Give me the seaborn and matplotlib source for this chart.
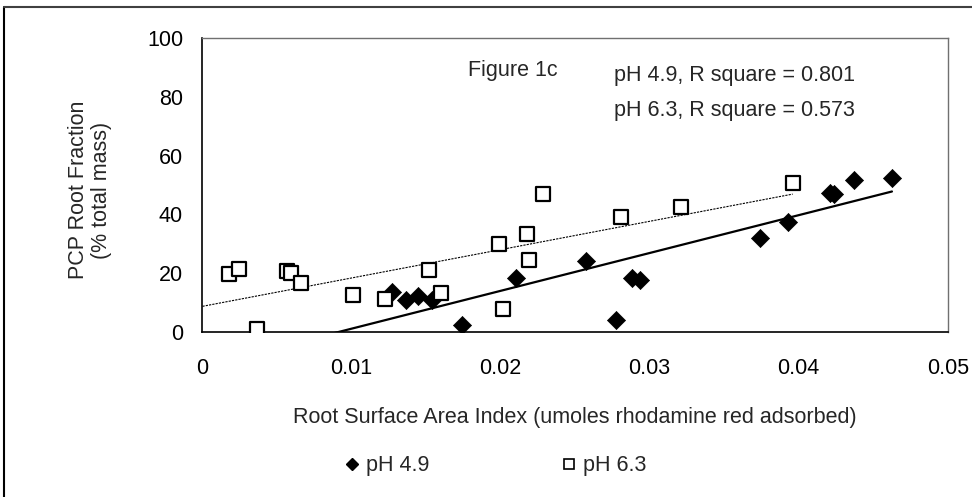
import matplotlib
matplotlib.use('Agg')

import matplotlib.pyplot as plt
import seaborn as sns
import numpy as np
import pandas as pd
from matplotlib.lines import Line2D

# pH 4.9 (filled diamonds)
x_49 = [0.0127, 0.01367, 0.01446, 0.0154, 0.01743, 0.02103, 0.02573, 0.02774,
        0.0288, 0.02935, 0.0374, 0.03926, 0.0421, 0.04237, 0.04371, 0.04626]
y_49 = [13.5, 10.8, 12.2, 10.9, 2.2, 18.4, 24.1, 4.0,
        18.4, 17.6, 32.0, 37.5, 47.2, 46.9, 51.7, 52.5]

# pH 6.3 (open squares)
x_63 = [0.00178, 0.00245, 0.00366, 0.00567, 0.00594, 0.0066, 0.01008, 0.01224,
        0.01517, 0.016, 0.0199, 0.02014, 0.02179, 0.0219, 0.02287, 0.02808,
        0.03208, 0.0396]
y_63 = [19.6, 21.4, 0.9, 20.8, 20.1, 16.6, 12.5, 11.3,
        20.9, 13.3, 29.8, 7.7, 33.2, 24.3, 46.8, 39.2,
        42.6, 50.8]

x_ticks = [0, 0.01, 0.02, 0.03, 0.04, 0.05]
y_ticks = [0, 20, 40, 60, 80, 100]

df = pd.concat([
    pd.DataFrame({"x": x_49, "y": y_49, "group": "pH 4.9"}),
    pd.DataFrame({"x": x_63, "y": y_63, "group": "pH 6.3"}),
])

sns.set_theme(style="white")
plt.rcParams['font.family'] = ['Liberation Sans', 'DejaVu Sans']
FS = 15.5

fig = plt.figure(figsize=(9.72, 4.97), dpi=100)
ax = fig.add_axes([0.2083, 0.3326, 0.975 - 0.2083, 0.923 - 0.3326])

# linear trend lines (Excel style: from x=0 to last point)
for xs, ys, ls, lw in [(x_49, y_49, '-', 1.6), (x_63, y_63, (0, (2, 1)), 0.8)]:
    k, b = np.polyfit(xs, ys, 1)
    xx = np.array([0, max(xs)])
    ax.plot(xx, k * xx + b, color='black', linestyle=ls, linewidth=lw, zorder=2)

sns.scatterplot(data=df[df.group == "pH 4.9"], x="x", y="y", marker="D", s=85,
                color="black", edgecolor="black", linewidth=0.5, ax=ax, zorder=3)
sns.scatterplot(data=df[df.group == "pH 6.3"], x="x", y="y", marker="s", s=105,
                facecolor="white", edgecolor="black", linewidth=1.6, ax=ax, zorder=3)

ax.set_xlim(0, 0.05)
ax.set_ylim(0, 100)
ax.set_xticks(x_ticks)
ax.set_xticklabels([f"{v:g}" for v in x_ticks])
ax.set_yticks(y_ticks)
ax.tick_params(axis='both', direction='inout', length=12, width=1, color='black',
               labelsize=FS, labelcolor='black')
ax.tick_params(axis='x', pad=13)
ax.tick_params(axis='y', pad=8)

for side in ['left', 'bottom']:
    ax.spines[side].set_color('black')
    ax.spines[side].set_linewidth(1.2)
for side in ['top', 'right']:
    ax.spines[side].set_color('#707070')
    ax.spines[side].set_linewidth(1.0)

ax.set_xlabel("Root Surface Area Index (umoles rhodamine red adsorbed)",
              fontsize=FS, labelpad=20)
ax.set_ylabel("")
fig.text(90 / 972, 1 - 190 / 497, "PCP Root Fraction\n(% total mass)", rotation=90,
         ha='center', va='center', fontsize=FS, linespacing=1.1)

ax.text(0.02083, 89, "Figure 1c", fontsize=FS, ha='center', va='center')
ax.text(0.0276, 87.3, "pH 4.9, R square = 0.801", fontsize=FS, ha='left', va='center')
ax.text(0.0276, 75.3, "pH 6.3, R square = 0.573", fontsize=FS, ha='left', va='center')

handles = [
    Line2D([], [], marker='D', linestyle='none', color='black', markersize=6.5),
    Line2D([], [], marker='s', linestyle='none', markerfacecolor='white',
           markeredgecolor='black', markersize=7.5, markeredgewidth=1.2),
]
fig.legend(handles, ["pH 4.9", "pH 6.3"], loc='center', bbox_to_anchor=(0.508, 1 - 466 / 497),
           ncol=2, frameon=False, fontsize=FS, handletextpad=0.15, columnspacing=6.0,
           handlelength=1.0)

# outer frame (left and top edges visible)
fig.add_artist(Line2D([4 / 972, 4 / 972], [0, 1 - 7 / 497], color='black', linewidth=1.5,
                      transform=fig.transFigure))
fig.add_artist(Line2D([4 / 972, 1], [1 - 7 / 497, 1 - 7 / 497], color='#404040', linewidth=1.5,
                      transform=fig.transFigure))

fig.savefig("out.png", dpi=100)
